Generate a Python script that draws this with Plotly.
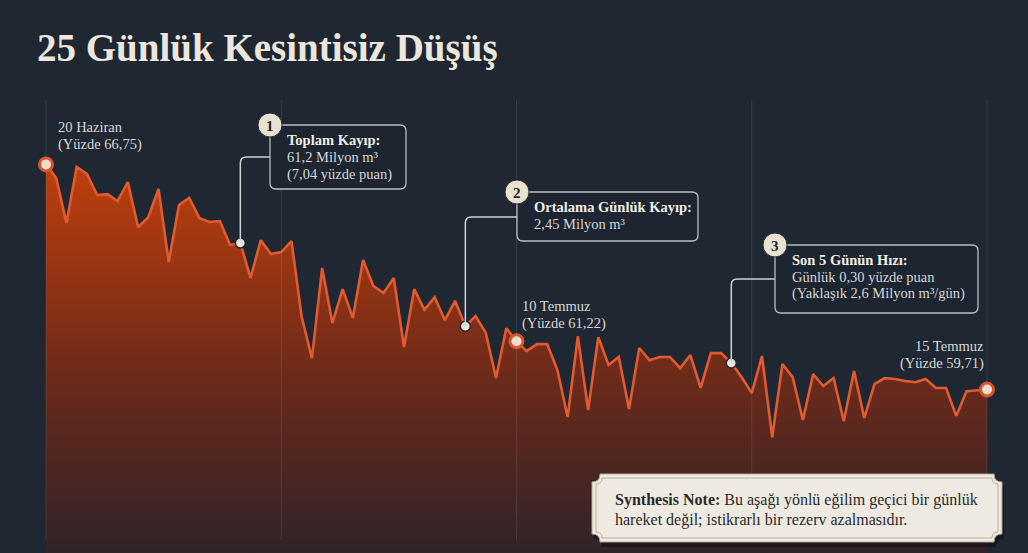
import plotly.graph_objects as go

W, H = 1028, 553

# ---------------- data ----------------
reservoir_pct = [
    66.75, 66.32, 64.92, 66.67, 66.45, 65.79, 65.82, 65.60, 66.20, 64.79,
    65.10, 65.98, 63.70, 65.48, 65.70, 65.07, 64.95, 64.98, 64.23, 64.29,
    63.20, 64.38, 63.95, 64.01, 64.35,
    61.98, 60.69, 63.51, 61.79, 62.85, 61.95, 63.76, 62.95, 62.73, 63.20,
    61.04, 62.85, 62.20, 62.60, 61.88, 62.48, 61.69, 62.01, 61.48, 60.07,
    61.63, 61.22,
    60.91, 61.13, 61.13, 60.32, 58.85, 61.38, 59.07, 61.35, 60.48, 60.73,
    59.10, 61.01, 60.63, 60.73, 60.73, 60.38, 60.79, 59.76, 60.85, 60.85,
    60.54, 60.10, 59.60,
    60.76, 58.22, 60.51, 60.10, 58.76, 60.19, 59.82, 60.07, 58.72, 60.29,
    58.82, 59.88, 60.07, 60.04, 59.98, 59.94, 60.04, 59.76, 59.76,
    58.88, 59.66, 59.69, 59.71,
]
obs_index = list(range(len(reservoir_pct)))

label_idx = [0, 46, 92]
label_dates = ["20 Haziran", "10 Temmuz", "15 Temmuz"]
label_pcts = ["Yüzde 66,75", "Yüzde 61,22", "Yüzde 59,71"]

callout_idx = [19, 41, 67]
callout_nums = ["1", "2", "3"]
callout_titles = ["Toplam Kayıp:", "Ortalama Günlük Kayıp:", "Son 5 Günün Hızı:"]
callout_lines = [
    ["61,2 Milyon m³", "(7,04 yüzde puan)"],
    ["2,45 Milyon m³"],
    ["Günlük 0,30 yüzde puan", "(Yaklaşık 2,6 Milyon m³/gün)"],
]

title_text = "25 Günlük Kesintisiz Düşüş"
note_bold = "Synthesis Note:"
note_line1 = " Bu aşağı yönlü eğilim geçici bir günlük"
note_line2 = "hareket değil; istikrarlı bir rezerv azalmasıdır."

# ---------------- layout helpers ----------------
XR = [-4.497, 96.009]
YR = [54.60, 71.89]
BG = "#1f2733"
FONT = "Liberation Serif"


def px_of_x(x):
    return (x - XR[0]) / (XR[1] - XR[0]) * W


def py_of_y(y):
    return (YR[1] - y) / (YR[1] - YR[0]) * H


def P(x, y):
    return f"{x / W:.5f},{1 - y / H:.5f}"


def rounded_rect(x0, y0, x1, y1, r):
    return (f"M{P(x0 + r, y0)} L{P(x1 - r, y0)} Q{P(x1, y0)} {P(x1, y0 + r)} "
            f"L{P(x1, y1 - r)} Q{P(x1, y1)} {P(x1 - r, y1)} L{P(x0 + r, y1)} "
            f"Q{P(x0, y1)} {P(x0, y1 - r)} L{P(x0, y0 + r)} Q{P(x0, y0)} {P(x0 + r, y0)} Z")


def notched_rect(x0, y0, x1, y1, r):
    return (f"M{P(x0 + r, y0)} L{P(x1 - r, y0)} Q{P(x1 - r, y0 + r)} {P(x1, y0 + r)} "
            f"L{P(x1, y1 - r)} Q{P(x1 - r, y1 - r)} {P(x1 - r, y1)} L{P(x0 + r, y1)} "
            f"Q{P(x0 + r, y1 - r)} {P(x0, y1 - r)} L{P(x0, y0 + r)} Q{P(x0 + r, y0 + r)} {P(x0 + r, y0)} Z")


fig = go.Figure()

# area + line
fig.add_trace(go.Scatter(
    x=obs_index, y=reservoir_pct, mode="lines",
    line=dict(color="#e15a30", width=2.6),
    fill="tozeroy",
    fillgradient=dict(type="vertical",
                      colorscale=[[0, "rgb(48,35,40)"], [0.45, "rgb(108,42,26)"], [1, "rgb(192,63,13)"]],
                      start=54.6, stop=66.8),
    hoverinfo="skip", showlegend=False,
))

shapes = []
annotations = []

# faint vertical grid lines
n_last = obs_index[-1]
for k in range(5):
    shapes.append(dict(type="line", xref="x", yref="paper",
                       x0=n_last * k / 4, x1=n_last * k / 4,
                       y0=1 - 100 / H, y1=1 - 540 / H,
                       line=dict(color="rgba(190,200,215,0.13)", width=1), layer="above"))

# callouts
boxes = [(270, 125, 406, 189, 157), (517, 192, 698, 241, 217), (775, 245, 978, 313, 279)]
for i, (bx0, by0, bx1, by1, cy) in enumerate(boxes):
    xi = callout_idx[i]
    ppx = px_of_x(xi)
    ppy = py_of_y(reservoir_pct[xi])
    r = 6
    shapes.append(dict(type="path", xref="paper", yref="paper",
                       path=f"M{P(bx0, cy)} L{P(ppx + r, cy)} Q{P(ppx, cy)} {P(ppx, cy + r)} L{P(ppx, ppy)}",
                       line=dict(color="#cfd2d6", width=1.5), layer="above"))
    shapes.append(dict(type="path", xref="paper", yref="paper",
                       path=rounded_rect(bx0, by0, bx1, by1, 6),
                       fillcolor="#1d2530", line=dict(color="#b9bec4", width=1.3), layer="above"))
    cr = 12
    shapes.append(dict(type="circle", xref="paper", yref="paper",
                       x0=(bx0 - cr) / W, x1=(bx0 + cr) / W,
                       y0=1 - (by0 + cr) / H, y1=1 - (by0 - cr) / H,
                       fillcolor="#e9e2cf", line=dict(color="#2a2f38", width=1), layer="above"))
    annotations.append(dict(x=bx0 / W, y=1 - (by0 + 1) / H, xref="paper", yref="paper",
                            text=f"<b>{callout_nums[i]}</b>", showarrow=False,
                            font=dict(family=FONT, size=15, color="#23262c"),
                            xanchor="center", yanchor="middle"))
    tx = bx0 + 15
    ty = by0 + 15
    annotations.append(dict(x=tx / W, y=1 - ty / H, xref="paper", yref="paper",
                            text=f"<b>{callout_titles[i]}</b>", showarrow=False,
                            font=dict(family=FONT, size=14.5, color="#f1ede5"),
                            xanchor="left", yanchor="middle"))
    for j, ln in enumerate(callout_lines[i]):
        annotations.append(dict(x=tx / W, y=1 - (ty + 17 * (j + 1)) / H, xref="paper", yref="paper",
                                text=ln, showarrow=False,
                                font=dict(family=FONT, size=14.5, color="#d6d6d6"),
                                xanchor="left", yanchor="middle"))

# callout point markers
fig.add_trace(go.Scatter(
    x=callout_idx, y=[reservoir_pct[i] for i in callout_idx], mode="markers",
    marker=dict(size=10, color="#ebe7df", line=dict(color="#1f2733", width=1.5)),
    hoverinfo="skip", showlegend=False,
))

# labelled point markers
fig.add_trace(go.Scatter(
    x=label_idx, y=[reservoir_pct[i] for i in label_idx], mode="markers",
    marker=dict(size=13, color="#f6dccb", line=dict(color="#d4552d", width=3)),
    hoverinfo="skip", showlegend=False,
))

label_cfg = [("left", 10, 37), ("left", 3, 35), ("right", -1, 44)]
for i, xi in enumerate(label_idx):
    anchor, dx, dy = label_cfg[i]
    for j, txt in enumerate([label_dates[i], f"({label_pcts[i]})"]):
        annotations.append(dict(x=xi, y=reservoir_pct[xi], xref="x", yref="y",
                                xshift=dx, yshift=dy - 17.5 * j,
                                text=txt, showarrow=False,
                                font=dict(family=FONT, size=14.5, color="#d8d8d8"),
                                xanchor=anchor, yanchor="middle"))

# title
annotations.append(dict(x=35 / W, y=1 - 48 / H, xref="paper", yref="paper",
                        text=f"<b>{title_text}</b>", showarrow=False,
                        font=dict(family=FONT, size=39, color="#ece7dc"),
                        xanchor="left", yanchor="middle"))

# synthesis note box
nx0, ny0, nx1, ny1 = 592, 474, 1002, 542
shapes.append(dict(type="path", xref="paper", yref="paper",
                   path=notched_rect(nx0 + 2, ny0 + 4, nx1 + 2, ny1 + 5, 8),
                   fillcolor="rgba(0,0,0,0.35)", line=dict(width=0), layer="above"))
shapes.append(dict(type="path", xref="paper", yref="paper",
                   path=notched_rect(nx0, ny0, nx1, ny1, 8),
                   fillcolor="#eeeae1", line=dict(color="#a9a59c", width=1), layer="above"))
shapes.append(dict(type="path", xref="paper", yref="paper",
                   path=notched_rect(nx0 + 4, ny0 + 4, nx1 - 4, ny1 - 4, 6),
                   fillcolor="rgba(0,0,0,0)", line=dict(color="#bcae96", width=1), layer="above"))
annotations.append(dict(x=613 / W, y=1 - 500 / H, xref="paper", yref="paper",
                        text=f"<b>{note_bold}</b>{note_line1}", showarrow=False,
                        font=dict(family=FONT, size=16, color="#2a2a2a"),
                        xanchor="left", yanchor="middle"))
annotations.append(dict(x=613 / W, y=1 - 519.5 / H, xref="paper", yref="paper",
                        text=note_line2, showarrow=False,
                        font=dict(family=FONT, size=16, color="#2a2a2a"),
                        xanchor="left", yanchor="middle"))

fig.update_layout(
    width=W, height=H,
    margin=dict(l=0, r=0, t=0, b=0),
    paper_bgcolor=BG, plot_bgcolor=BG,
    xaxis=dict(range=XR, visible=False, fixedrange=True),
    yaxis=dict(range=YR, visible=False, fixedrange=True),
    shapes=shapes, annotations=annotations,
    showlegend=False,
    font=dict(family=FONT),
)

fig.write_html("out.html", config={"displayModeBar": False})
